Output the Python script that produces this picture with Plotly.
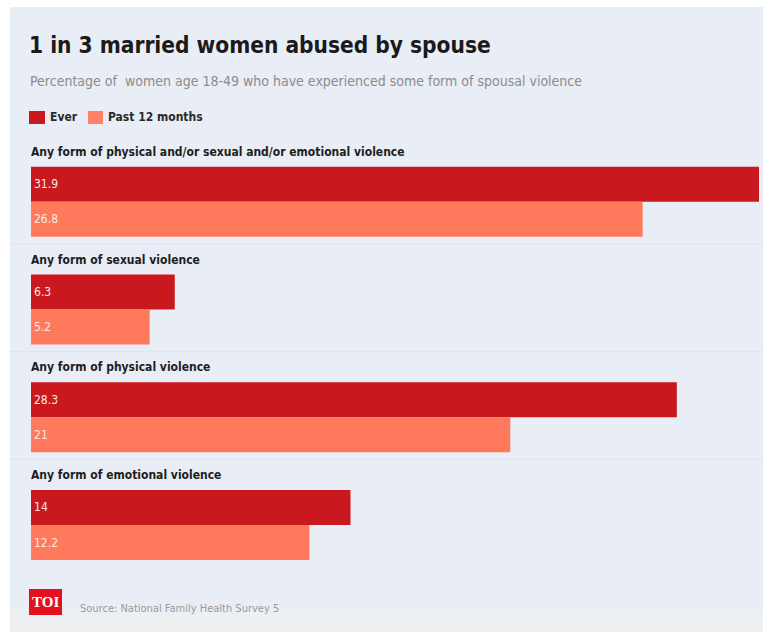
import plotly.graph_objects as go

# Survey data (NFHS-5): share of women age 18-49 who experienced spousal violence
categories = [
    "Any form of physical and/or sexual and/or emotional violence",
    "Any form of sexual violence",
    "Any form of physical violence",
    "Any form of emotional violence",
]
ever = [31.9, 6.3, 28.3, 14]
past_12_months = [26.8, 5.2, 21, 12.2]
series_names = ["Ever", "Past 12 months"]

title_text = "1 in 3 married women abused by spouse"
subtitle_text = "Percentage of  women age 18-49 who have experienced some form of spousal violence"
source_text = "Source: National Family Health Survey 5"

# Styling
W, H = 763, 632
ML, MR, MT, MB = 31, 4, 148, 48
EVER_COLOR = "#c9181e"
PAST_COLOR = "#ff7a5c"
PANEL = "#e9edf5"
COND = "DejaVu Sans Condensed, DejaVu Sans, sans-serif"


def px_x(px):
    return (px - ML) / (W - ML - MR)


def px_y(py):
    return (H - MB - py) / (H - MT - MB)


def fmt(v):
    return f"{v:g}"


fig = go.Figure()
for name, vals, color in [
    (series_names[0], ever, EVER_COLOR),
    (series_names[1], past_12_months, PAST_COLOR),
]:
    fig.add_trace(
        go.Bar(
            name=name,
            y=categories,
            x=vals,
            orientation="h",
            marker=dict(color=color, line=dict(width=0)),
            text=[fmt(v) for v in vals],
            textposition="inside",
            insidetextanchor="start",
            textfont=dict(family=COND, size=12, color="#fbe9e4"),
            hoverinfo="skip",
            showlegend=False,
        )
    )

shapes = [
    # background panel
    dict(type="rect", xref="paper", yref="paper", layer="below",
         x0=px_x(10), x1=px_x(W + 5), y0=px_y(7), y1=px_y(609),
         fillcolor=PANEL, line=dict(width=0)),
    dict(type="rect", xref="paper", yref="paper", layer="below",
         x0=px_x(10), x1=px_x(W + 5), y0=px_y(609), y1=px_y(H + 5),
         fillcolor="#edf0f3", line=dict(width=0)),
    # legend swatches
    dict(type="rect", xref="paper", yref="paper",
         x0=px_x(29), x1=px_x(45), y0=px_y(111), y1=px_y(124),
         fillcolor=EVER_COLOR, line=dict(width=0)),
    dict(type="rect", xref="paper", yref="paper",
         x0=px_x(88), x1=px_x(103), y0=px_y(111), y1=px_y(124),
         fillcolor="#ff8266", line=dict(width=0)),
    # TOI badge
    dict(type="rect", xref="paper", yref="paper",
         x0=px_x(29), x1=px_x(62), y0=px_y(589), y1=px_y(615),
         fillcolor="#e3101f", line=dict(width=0)),
]

# faint separators between category groups
for i in range(len(categories) - 1):
    shapes.append(dict(type="line", xref="paper", yref="y", layer="below",
                       x0=px_x(10), x1=px_x(W + 5), y0=i + 0.39, y1=i + 0.39,
                       line=dict(color="#dfe3ea", width=1)))

annotations = [
    dict(text=f"<b>{title_text}</b>", xref="paper", yref="paper",
         x=px_x(27), y=px_y(45), xanchor="left", yanchor="middle",
         showarrow=False, font=dict(family=COND, size=22.5, color="#1a1a1a")),
    dict(text=subtitle_text, xref="paper", yref="paper",
         x=px_x(28), y=px_y(81), xanchor="left", yanchor="middle",
         showarrow=False, font=dict(family=COND, size=14, color="#8c8c8c")),
    dict(text=f"<b>{series_names[0]}</b>", xref="paper", yref="paper",
         x=px_x(48), y=px_y(117), xanchor="left", yanchor="middle",
         showarrow=False, font=dict(family=COND, size=12, color="#2a2a2a")),
    dict(text=f"<b>{series_names[1]}</b>", xref="paper", yref="paper",
         x=px_x(106), y=px_y(117), xanchor="left", yanchor="middle",
         showarrow=False, font=dict(family=COND, size=12, color="#2a2a2a")),
    dict(text="<b>TOI</b>", xref="paper", yref="paper",
         x=px_x(45.5), y=px_y(602), xanchor="center", yanchor="middle",
         showarrow=False, font=dict(family="Liberation Serif, DejaVu Serif, serif",
                                    size=15, color="#ffffff")),
    dict(text=source_text, xref="paper", yref="paper",
         x=px_x(78), y=px_y(608), xanchor="left", yanchor="middle",
         showarrow=False, font=dict(family=COND, size=11, color="#9a9a9a")),
]

# category headings above each bar pair
for cat in categories:
    annotations.append(dict(text=f"<b>{cat}</b>", xref="x", yref="y",
                            x=0, y=cat, xanchor="left", yanchor="middle",
                            xshift=-2, yshift=50, showarrow=False,
                            font=dict(family=COND, size=12, color="#1e1e1e")))

fig.update_layout(
    width=W, height=H,
    margin=dict(l=ML, r=MR, t=MT, b=MB, pad=0),
    paper_bgcolor="#ffffff",
    plot_bgcolor="rgba(0,0,0,0)",
    barmode="group",
    bargap=0.35,
    bargroupgap=0,
    xaxis=dict(range=[0, max(ever)], visible=False, fixedrange=True),
    yaxis=dict(autorange="reversed", visible=False, fixedrange=True),
    shapes=shapes,
    annotations=annotations,
    uniformtext=dict(minsize=10, mode="show"),
)

fig.write_html("out.html")
